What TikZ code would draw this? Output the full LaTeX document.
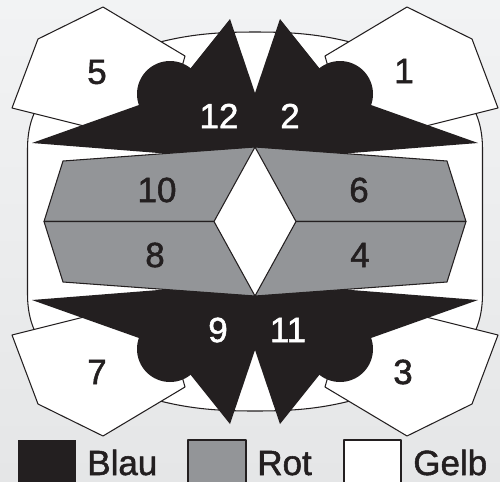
\documentclass[tikz,border=0pt]{standalone}
\usepackage{fontspec}
\setmainfont{Liberation Sans}
\newfontfamily\zahlfamily{Liberation Sans}[FakeBold=1.5]
\usepackage{xcolor}
\usepackage{tikz}
\usetikzlibrary{positioning}
\definecolor{blaufarbe}{RGB}{35,31,32}
\definecolor{rotfarbe}{RGB}{147,149,152}
\definecolor{hgoben}{RGB}{242,243,244}
\definecolor{hgunten}{RGB}{229,230,231}
\newcommand\zahlfont{\zahlfamily\fontsize{19.9}{24}\selectfont}
\tikzset{
  % Feld styles
  blaufeld/.style={fill=blaufarbe, draw=none},
  rotfeld/.style={fill=rotfarbe, draw=blaufarbe, line width=0.6pt, line join=round},
  gelbfeld/.style={fill=white, draw=blaufarbe, line width=0.6pt, line join=round},
  rahmen/.style={fill=white, draw=blaufarbe, line width=0.6pt},
  % Text styles
  zahl/.style={font=\zahlfont, text=blaufarbe, inner sep=0pt},
  zahlweiss/.style={zahl, text=white},
  legende/.style={font=\zahlfont, text=blaufarbe, anchor=base west, inner sep=0pt},
}
\begin{document}
\begin{tikzpicture}[x=0.02cm, y=-0.02cm]
    % Picture: 500 x 481, axes of symmetry at x=255, y=221.5
    \def\cx{255} \def\cy{221.5}
    \useasboundingbox (0,0) rectangle (500,481);
    \clip (0,0) rectangle (500,481);
    \shade[top color=hgoben, bottom color=hgunten] (0,0) rectangle (500,481);
    \begin{scope}[shift={(\cx,\cy)}]
      % Rahmen
      \draw[rahmen] (-227.5,0) -- (-227.5,-72) .. controls (-227.5,-112) and (-210,-136) .. (-165,-155)
        .. controls (-95,-185) and (-55,-189.5) .. (0,-189.5)
        .. controls (55,-189.5) and (95,-185) .. (165,-155)
        .. controls (210,-136) and (227.5,-112) .. (227.5,-72) -- (227.5,72)
        .. controls (227.5,112) and (210,136) .. (165,155)
        .. controls (95,185) and (55,189.5) .. (0,189.5)
        .. controls (-55,189.5) and (-95,185) .. (-165,155)
        .. controls (-210,136) and (-227.5,112) .. (-227.5,72) -- cycle;
      % Gelb: pentagons
      \foreach \sx/\sy in {1/1, -1/1, 1/-1, -1/-1} {
        \begin{scope}[xscale=\sx, yscale=\sy]
          \draw[gelbfeld] (-152,-214.5) -- (-217,-182.5) -- (-243,-113.5) -- (-95,-76.5) -- (-70,-165.5) -- cycle;
        \end{scope}
      }
      % Rot: gray quarters round the diamond
      \foreach \sx/\sy in {1/1, -1/1, 1/-1, -1/-1} {
        \begin{scope}[xscale=\sx, yscale=\sy]
          \draw[rotfeld] (-192,-60.5) -- (0,-74.5) -- (-41,0) -- (-211,0) -- cycle;
        \end{scope}
      }
      % Blau: spikes with round bump
      \foreach \sx/\sy in {1/1, -1/1, 1/-1, -1/-1} {
        \begin{scope}[xscale=\sx, yscale=\sy]
          \fill[blaufeld] (-223,-78.5) -- (-85,-127.5) -- (-25,-202.5) -- (0,-128.5) -- (0,-74.5) -- (-90,-68) -- cycle;
          \fill[blaufeld] (-85,-127.5) circle (33);
        \end{scope}
      }
    \end{scope}
    % Numbers
    \foreach \z/\px/\py in {5/97/72, 1/404/71, 7/97/372, 3/403/372, 10/157/190, 6/359/190, 8/155/255, 4/360/255} {
      \node[zahl] (z\z) at (\px,\py) {\z};
    }
    \foreach \z/\px/\py in {12/219/116, 2/290/116, 9/218/330, 11/288/330} {
      \node[zahlweiss] (z\z) at (\px,\py) {\z};
    }
    % Legend
    \fill[blaufeld] (18,440) rectangle (76,490);
    \draw[rotfeld] (188,440) rectangle (246,490);
    \draw[gelbfeld] (344,440) rectangle (401,490);
    \node[legende] (blau) at (87,475) {Blau};
    \node[legende] (rot) at (257,475) {Rot};
    \node[legende] (gelb) at (413,475) {Gelb};
\end{tikzpicture}
\end{document}
